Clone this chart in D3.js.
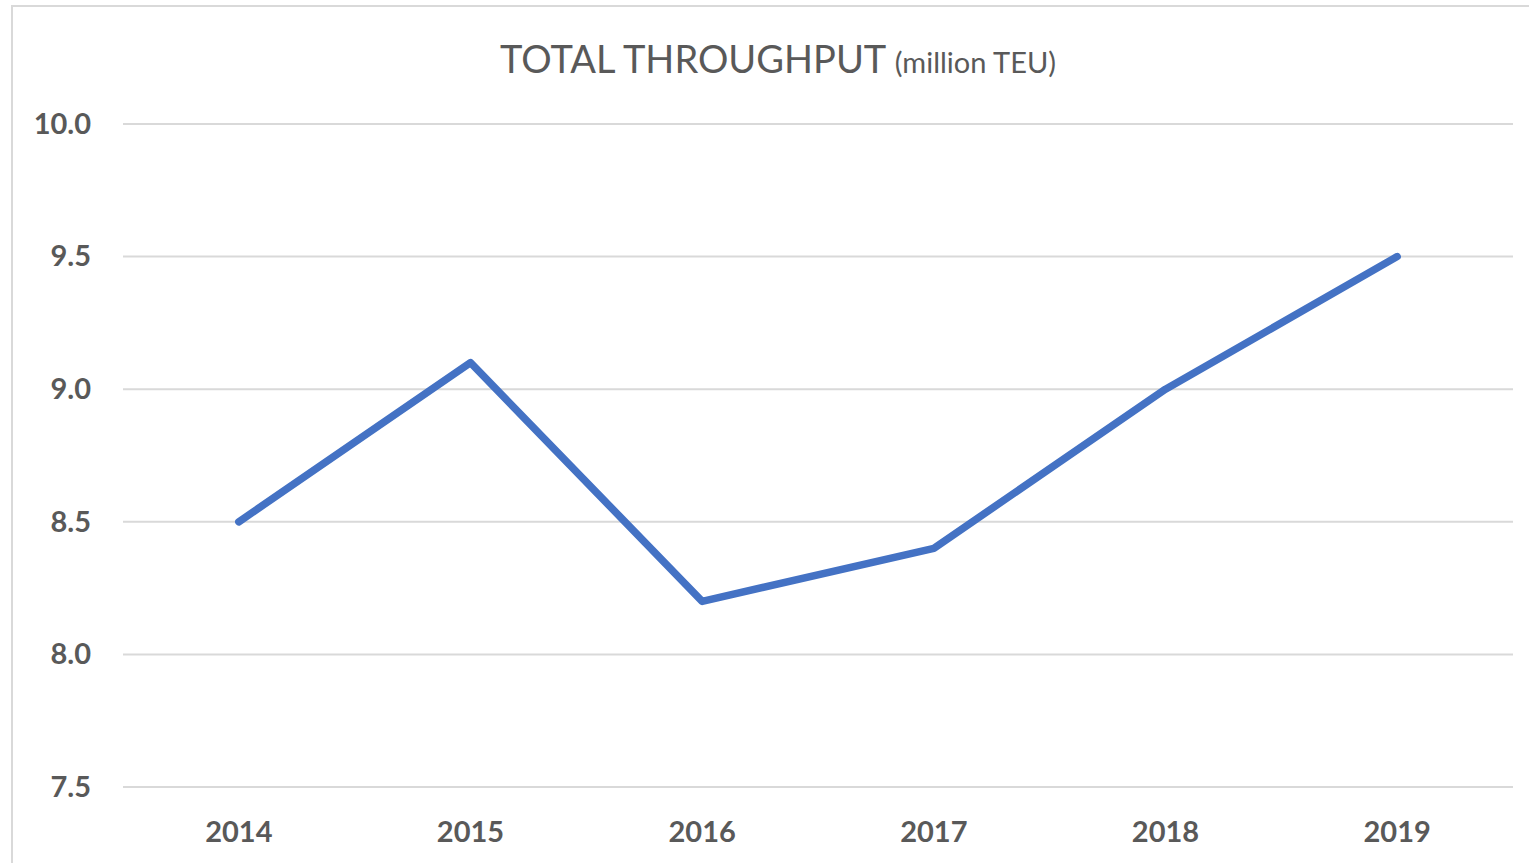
<!DOCTYPE html>
<html><head><meta charset="utf-8">
<script src="https://cdn.jsdelivr.net/npm/d3@7"></script>
<style>html,body{margin:0;padding:0;background:#fff;overflow:hidden}</style>
</head><body>
<svg id="c" width="1529" height="863"></svg>
<script>
const years = ["2014","2015","2016","2017","2018","2019"];
const throughput = [8.5, 9.1, 8.2, 8.4, 9.0, 9.5];
const yTicks = [7.5, 8.0, 8.5, 9.0, 9.5, 10.0];

(function () {
const svg = d3.select("#c");
const font = "Lato, 'Open Sans', sans-serif";
const plotLeft = 123, plotRight = 1513, plotTop = 124, plotBottom = 787;

// frame
svg.append("path").attr("d", "M12,863 V6 H1529").attr("fill","none").attr("stroke","#d9d9d9").attr("stroke-width",2);

const x = d3.scaleBand().domain(years).range([plotLeft, plotRight]);
const y = d3.scaleLinear().domain([7.5, 10]).range([plotBottom, plotTop]);

// gridlines
svg.append("g").selectAll("line").data(yTicks).join("line")
  .attr("x1", plotLeft).attr("x2", plotRight)
  .attr("y1", d => y(d)).attr("y2", d => y(d))
  .attr("stroke", "#d9d9d9").attr("stroke-width", 2);

// y axis labels
const yAxis = d3.axisLeft(y).tickValues(yTicks).tickFormat(d3.format(".1f")).tickSize(0).tickPadding(32);
const yg = svg.append("g").attr("transform", `translate(${plotLeft},0)`).call(yAxis);
yg.select(".domain").remove();
yg.selectAll("text").attr("font-family", font).attr("font-size", 29).attr("font-weight", "bold").attr("fill", "#595959");

// x axis labels
const xAxis = d3.axisBottom(x).tickSize(0).tickPadding(34);
const xg = svg.append("g").attr("transform", `translate(0,${plotBottom})`).call(xAxis);
xg.select(".domain").remove();
xg.selectAll("text").attr("font-family", font).attr("font-size", 29).attr("font-weight", "bold").attr("fill", "#595959");

// line
const line = d3.line().x((d, i) => x(years[i]) + x.bandwidth() / 2).y(d => y(d));
svg.append("path").datum(throughput).attr("d", line)
  .attr("fill", "none").attr("stroke", "#4472C4").attr("stroke-width", 7.5)
  .attr("stroke-linecap", "round").attr("stroke-linejoin", "round");

// title
const t = svg.append("text").attr("x", 778).attr("y", 73).attr("text-anchor", "middle")
  .attr("font-family", font).attr("fill", "#595959");
t.append("tspan").attr("font-size", 38).text("TOTAL THROUGHPUT ");
t.append("tspan").attr("font-size", 29).text("(million TEU)");
})();
</script>
</body></html>
